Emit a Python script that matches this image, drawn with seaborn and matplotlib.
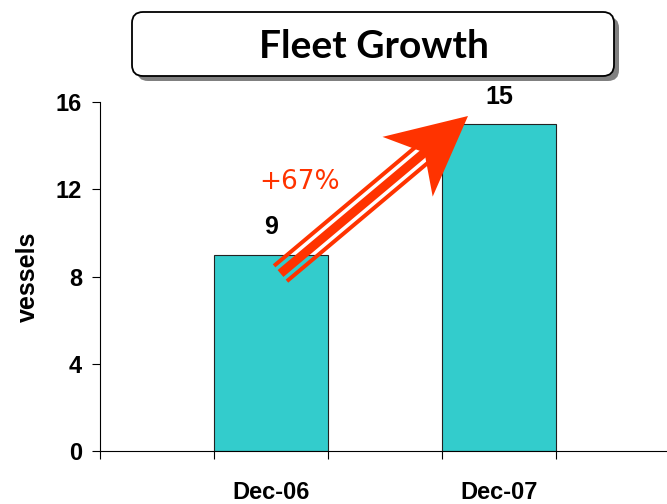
import numpy as np
import matplotlib
matplotlib.use("Agg")
import matplotlib.pyplot as plt
import seaborn as sns
from matplotlib.patches import Polygon, FancyBboxPatch
from matplotlib.transforms import IdentityTransform

categories = ["Dec-06", "Dec-07"]
values = [9, 15]
yticks = [0, 4, 8, 12, 16]
growth_label = "+67%"
title = "Fleet Growth"
ylabel = "vessels"

sns.set_style("white")
plt.rcParams['font.family'] = ['Liberation Sans', 'DejaVu Sans']
plt.rcParams['text.color'] = 'black'
plt.rcParams['axes.labelcolor'] = 'black'
plt.rcParams['xtick.color'] = 'black'
plt.rcParams['ytick.color'] = 'black'

W, H = 667, 504
fig = plt.figure(figsize=(W / 100, H / 100), dpi=100)
ax = fig.add_axes([100 / W, 53 / H, 570 / W, 349 / H])

sns.barplot(x=categories, y=values, color="#33CCCC", edgecolor="#222222",
            linewidth=0.8, width=0.5, saturation=1, ax=ax)

ax.set_xlim(-0.75, 1.75)
ax.set_ylim(0, 16)
ax.set_yticks(yticks)
ax.set_yticklabels([str(t) for t in yticks], fontsize=17, fontweight="bold")
ax.set_xticks([0, 1])
ax.set_xticklabels(categories, fontsize=17, fontweight="bold")
ax.set_xticks([-0.75, -0.25, 0.25, 0.75, 1.25, 1.75], minor=True)
ax.tick_params(axis="x", which="major", length=0, pad=21.5, bottom=True)
ax.tick_params(axis="x", which="minor", length=6, width=0.8, direction="out",
               color="black", bottom=True)
ax.tick_params(axis="y", which="major", length=6, width=0.8, direction="out",
               color="black", pad=7, left=True)
ax.set_xlabel("")
ax.set_ylabel(ylabel, fontsize=18, fontweight="bold", labelpad=11)
for s in ["top", "right"]:
    ax.spines[s].set_visible(False)
for s in ["left", "bottom"]:
    ax.spines[s].set_color("black")
    ax.spines[s].set_linewidth(0.8)

for i, v in enumerate(values):
    ax.annotate(str(v), (i, v), xytext=(0, 11), textcoords="offset points",
                ha="center", va="bottom", fontsize=18, fontweight="bold")

# ---- striped arrow (pixel coords, top-origin) ----
red = "#FF3300"
tail = np.array([280.5, 273.5])
tip = np.array([468.0, 116.0])
d = tip - tail
L = np.hypot(*d)
d = d / L
n = np.array([-d[1], d[0]])
if n[1] < 0:
    n = -n

def to_disp(pts):
    out = []
    for a, c in pts:
        p = tail + a * d + c * n
        out.append((p[0], H - p[1]))
    return out

for lo, hi in [(-12, -8), (-4.5, 4.5), (8, 12)]:
    poly = Polygon(to_disp([(0, lo), (195, lo), (195, hi), (0, hi)]),
                   closed=True, facecolor=red, edgecolor="none",
                   transform=IdentityTransform())
    fig.add_artist(poly)
head = Polygon(to_disp([(166, -39), (L, 0), (166, 39), (188, 0)]),
               closed=True, facecolor=red, edgecolor="none",
               transform=IdentityTransform())
fig.add_artist(head)

fig.text(300 / W, 1 - 182 / H, growth_label, color=red, fontsize=19,
         family="DejaVu Sans", ha="center", va="center")

# ---- title box ----
bx, by, bw, bh = 132, H - 76, 482, 64
shadow = FancyBboxPatch((bx + 5, by - 5), bw, bh,
                        boxstyle="round,pad=0,rounding_size=11",
                        facecolor="#808080", edgecolor="none",
                        transform=IdentityTransform())
box = FancyBboxPatch((bx, by), bw, bh,
                     boxstyle="round,pad=0,rounding_size=11",
                     facecolor="white", edgecolor="black", linewidth=1.3,
                     transform=IdentityTransform())
fig.add_artist(shadow)
fig.add_artist(box)
fig.text(374 / W, 1 - 46 / H, title, fontsize=28, fontweight="bold",
         family=["Lato", "DejaVu Sans"], ha="center", va="center")

fig.savefig("out.png", dpi=100)
